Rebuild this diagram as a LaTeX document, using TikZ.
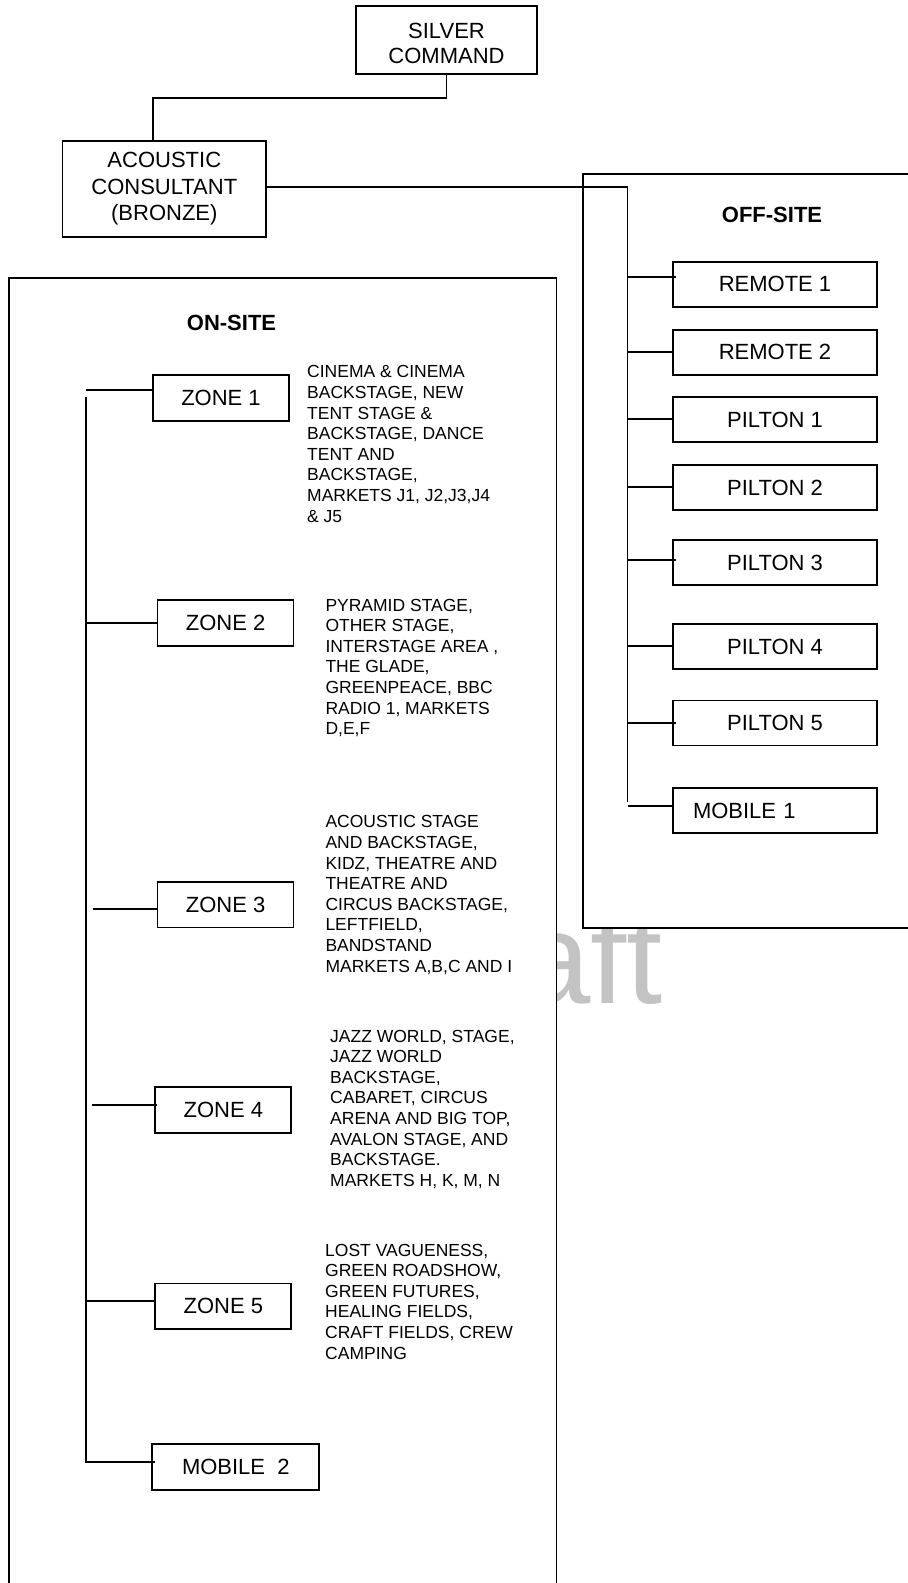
\documentclass[tikz,border=0pt]{standalone}
\usepackage{fontspec}
\setmainfont{Liberation Sans}
\usetikzlibrary{calc}
\definecolor{wm}{RGB}{195,195,195}
\tikzset{
  box/.style={draw, fill=white, line width=1.7pt, inner sep=0pt, align=center,
              font=\fontsize{22}{25}\selectfont},
  rbox/.style={box, minimum width=204pt, minimum height=45pt},
  zbox/.style={box, minimum width=136pt, minimum height=45.7pt},
  frame/.style={draw, fill=white, line width=1.7pt, inner sep=0pt, anchor=north west},
  heading/.style={inner sep=0pt, font=\fontsize{22}{25}\selectfont\bfseries},
  desc/.style={anchor=north west, inner sep=0pt, align=left,
               font=\fontsize{17.5}{20.6}\selectfont},
  link/.style={line width=1.7pt},
}
\begin{document}
\begin{tikzpicture}[x=1pt,y=-1pt]
\useasboundingbox (0,0) rectangle (908,1583);

% watermark (partly hidden)
\begin{scope}
  \clip (557,927.5) rectangle (908,1583);
  \node[anchor=base west, inner sep=0pt, text=wm, font=\fontsize{130}{130}\selectfont] (wmark) at (518.3,1003) {aft};
\end{scope}

% frames
\node[frame, minimum width=547.4pt, minimum height=1400pt] (onsite) at (8.3,277.3) {};
\node[frame, minimum width=400pt, minimum height=754pt] (offsite) at (582,173) {};
\node[heading] (onlabel) at (231.5,323.3) {ON-SITE};
\node[heading] (offlabel) at (772,215) {OFF-SITE};

% top boxes
\node[box, minimum width=181pt, minimum height=68pt] (silver) at (446.5,39.9) {\rule{0pt}{22.5pt}SILVER\\COMMAND};
\node[box, minimum width=203.5pt, minimum height=96pt, font=\fontsize{22}{26.5}\selectfont] (acoustic) at (164.3,189) {ACOUSTIC\\CONSULTANT\\(BRONZE)};

% off-site boxes
\node[rbox] (remote1) at (775,284.2) {REMOTE 1};
\node[rbox] (remote2) at (775,352.2) {REMOTE 2};
\node[rbox] (pilton1) at (775,419.8) {PILTON 1};
\node[rbox] (pilton2) at (775,487.5) {PILTON 2};
\node[rbox] (pilton3) at (775,562.5) {PILTON 3};
\node[rbox] (pilton4) at (775,646.5) {PILTON 4};
\node[rbox] (pilton5) at (775,722.9) {PILTON 5};
\node[rbox, text width=164pt, align=left] (mobile1) at (775,810.5) {MOBILE 1};

% on-site boxes
\node[zbox] (zone1) at (221,397.9) {ZONE 1};
\node[zbox] (zone2) at (225.6,622.9) {ZONE 2};
\node[zbox] (zone3) at (225.6,904.5) {ZONE 3};
\node[zbox] (zone4) at (223.3,1110) {ZONE 4};
\node[zbox] (zone5) at (223.3,1306.4) {ZONE 5};
\node[box, minimum width=167pt, minimum height=45.7pt] (mobile2) at (235.8,1466.9) {MOBILE\ \ 2};

% descriptions
\node[desc] (d1) at (307,365.4) {CINEMA \& CINEMA\\BACKSTAGE, NEW\\TENT STAGE \&\\BACKSTAGE, DANCE\\TENT AND\\BACKSTAGE,\\MARKETS J1, J2,J3,J4\\\& J5};
\node[desc] (d2) at (325.3,598.7) {PYRAMID STAGE,\\OTHER STAGE,\\INTERSTAGE AREA ,\\THE GLADE,\\GREENPEACE, BBC\\RADIO 1, MARKETS\\D,E,F};
\node[desc] (d3) at (325.3,815.4) {ACOUSTIC STAGE\\AND BACKSTAGE,\\KIDZ, THEATRE AND\\THEATRE AND\\CIRCUS BACKSTAGE,\\LEFTFIELD,\\BANDSTAND\\MARKETS A,B,C AND I};
\node[desc] (d4) at (330,1029.7) {JAZZ WORLD, STAGE,\\JAZZ WORLD\\BACKSTAGE,\\CABARET, CIRCUS\\ARENA AND BIG TOP,\\AVALON STAGE, AND\\BACKSTAGE.\\MARKETS H, K, M, N};
\node[desc] (d5) at (325,1243.7) {LOST VAGUENESS,\\GREEN ROADSHOW,\\GREEN FUTURES,\\HEALING FIELDS,\\CRAFT FIELDS, CREW\\CAMPING};

% silver -> acoustic
\draw[link] (silver.south) -- ++(0,23) -| ([xshift=-11pt]acoustic.north);

% off-site trunk
\coordinate (ot) at (627.5,187);
\coordinate (ob) at (627.5,802);
\draw[link] (acoustic.east |- ot) -- (ot) -- (ob);
\coordinate (r1) at (627.5,276.7);
\coordinate (r2) at (627.5,352);
\coordinate (p1) at (627.5,419.3);
\coordinate (p2) at (627.5,487.3);
\coordinate (p3) at (627.5,560);
\coordinate (p4) at (627.5,645.7);
\coordinate (p5) at (627.5,722.7);
\coordinate (m1) at (627.5,806);
\draw[link] (r1) -- ($(remote1.west |- r1)+(4,0)$);
\draw[link] (r2) -- (remote2.west |- r2);
\draw[link] (p1) -- (pilton1.west |- p1);
\draw[link] (p2) -- (pilton2.west |- p2);
\draw[link] (p3) -- ($(pilton3.west |- p3)+(4,0)$);
\draw[link] (p4) -- (pilton4.west |- p4);
\draw[link] (p5) -- ($(pilton5.west |- p5)+(4,0)$);
\draw[link] (m1) -- (mobile1.west |- m1);

% on-site trunk
\coordinate (lt) at (86,397);
\coordinate (lb) at (86,1462);
\draw[link] (lt) -- (lb) -- ($(mobile2.west |- lb)+(4,0)$);
\coordinate (z1) at (86,390);
\coordinate (z2) at (86,623.3);
\coordinate (z3) at (92.6,909.3);
\coordinate (z4) at (92.3,1105.3);
\coordinate (z5) at (86,1301.3);
\draw[link] (z1) -- (zone1.west |- z1);
\draw[link] (z2) -- (zone2.west |- z2);
\draw[link] (z3) -- (zone3.west |- z3);
\draw[link] (z4) -- ($(zone4.west |- z4)+(3,0)$);
\draw[link] (z5) -- (zone5.west |- z5);
\end{tikzpicture}
\end{document}
